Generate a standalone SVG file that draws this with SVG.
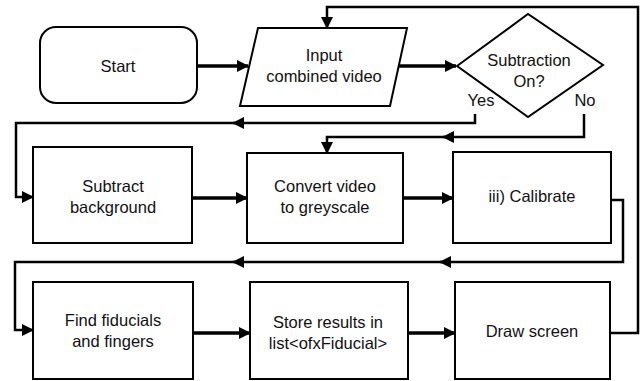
<svg xmlns="http://www.w3.org/2000/svg" width="642" height="381" viewBox="0 0 642 381">
<style>
.node{fill:#fff;stroke:#000;stroke-width:2}
.t{font-family:"Liberation Sans",Arial,sans-serif;font-size:16.5px;fill:#111;text-anchor:middle}
.c{fill:none;stroke:#000;stroke-width:2.5}
.thick{stroke-width:3.5}
</style>
<defs>
<marker id="ah" markerUnits="userSpaceOnUse" markerWidth="12" markerHeight="12" refX="11" refY="6" orient="auto">
<path d="M0,0 L12,6 L0,12 z" fill="#000"/>
</marker>
</defs>
<rect width="642" height="381" fill="#fff"/>
<g id="connectors">
<path class="c thick" d="M197,66 H248" marker-end="url(#ah)"/>
<path class="c thick" d="M398,66 H456" marker-end="url(#ah)"/>
<path class="c" d="M475,114 V123 H233" marker-end="url(#ah)"/>
<path class="c" d="M235,123 H16 V197 H33" marker-end="url(#ah)"/>
<path class="c" d="M584,114 V137 H443" marker-end="url(#ah)"/>
<path class="c" d="M445,137 H327 V153" marker-end="url(#ah)"/>
<path class="c thick" d="M192,198 H247" marker-end="url(#ah)"/>
<path class="c thick" d="M403,198 H453" marker-end="url(#ah)"/>
<path class="c" d="M611,200 H623 V262 H440" marker-end="url(#ah)"/>
<path class="c" d="M442,262 H233" marker-end="url(#ah)"/>
<path class="c" d="M235,262 H15 V330 H33" marker-end="url(#ah)"/>
<path class="c thick" d="M193,333 H250" marker-end="url(#ah)"/>
<path class="c thick" d="M408,333 H455" marker-end="url(#ah)"/>
<path class="c" d="M610,333 H638 V7 H327 V28" marker-end="url(#ah)"/>
</g>
<g id="start">
<rect class="node" x="40" y="27" width="157" height="76" rx="16"/>
<text class="t" x="118" y="72">Start</text>
</g>
<g id="input">
<polygon class="node" points="258,28 407,28 390,106 240,106"/>
<text class="t" x="324" y="61">Input</text>
<text class="t" x="324" y="82">combined video</text>
</g>
<g id="decision">
<polygon class="node" points="457,66 528,14 603,65 528,117"/>
<text class="t" x="529" y="66">Subtraction</text>
<text class="t" x="529" y="87">On?</text>
</g>
<g id="labels">
<text class="t" x="481" y="106">Yes</text>
<text class="t" x="585" y="106">No</text>
</g>
<g id="subtract">
<rect class="node" x="33" y="147" width="159" height="96"/>
<text class="t" x="113" y="192">Subtract</text>
<text class="t" x="113" y="213">background</text>
</g>
<g id="convert">
<rect class="node" x="247" y="153" width="156" height="90"/>
<text class="t" x="325" y="192">Convert video</text>
<text class="t" x="325" y="213">to greyscale</text>
</g>
<g id="calibrate">
<rect class="node" x="453" y="152" width="158" height="91"/>
<text class="t" x="532" y="202">iii) Calibrate</text>
</g>
<g id="find">
<rect class="node" x="33" y="282" width="160" height="97"/>
<text class="t" x="113" y="326">Find fiducials</text>
<text class="t" x="113" y="347">and fingers</text>
</g>
<g id="store">
<rect class="node" x="250" y="282" width="158" height="97"/>
<text class="t" x="328" y="328">Store results in</text>
<text class="t" x="328" y="349">list&lt;ofxFiducial&gt;</text>
</g>
<g id="draw">
<rect class="node" x="455" y="282" width="155" height="97"/>
<text class="t" x="532" y="337">Draw screen</text>
</g>
</svg>
